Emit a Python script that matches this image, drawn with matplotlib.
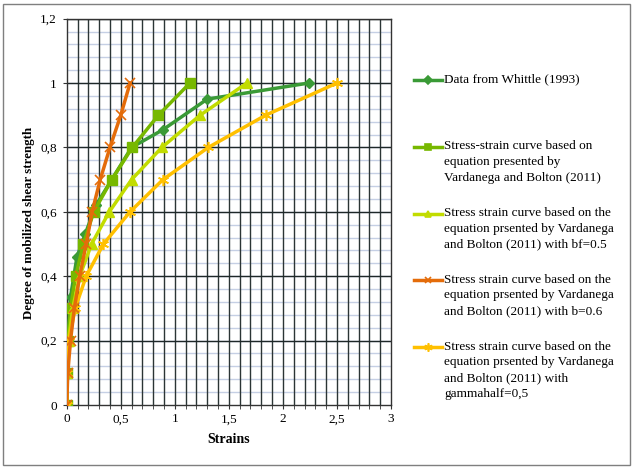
import matplotlib
matplotlib.use("Agg")
from matplotlib import pyplot as plt
from matplotlib.lines import Line2D
from matplotlib.patches import Rectangle
import numpy

plt.rcParams['font.family'] = ['Liberation Serif', 'DejaVu Serif']

# data
whittle_x = [0, 0.01, 0.035, 0.095, 0.17, 0.27, 0.6, 0.89, 1.3, 2.24]
whittle_y = [0, 0.2, 0.335, 0.46, 0.53, 0.62, 0.8, 0.855, 0.95, 1.0]

levels = [0, 0.1, 0.2, 0.3, 0.4, 0.5, 0.6, 0.7, 0.8, 0.9, 1.0]
vb_x = [0, 0.002, 0.012, 0.035, 0.082, 0.155, 0.25, 0.417, 0.607, 0.848, 1.14]
bf_x = [0, 0.003, 0.017, 0.055, 0.12, 0.23, 0.394, 0.6, 0.88, 1.234, 1.667]
b06_x = [0, 0.01, 0.035, 0.07, 0.12, 0.18, 0.235, 0.31, 0.40, 0.50, 0.586]
gh_x = [0, 0.003, 0.02, 0.078, 0.18, 0.34, 0.586, 0.89, 1.31, 1.84, 2.5]

labels = [
    "Data from Whittle (1993)",
    "Stress-strain curve based on\nequation presented by\nVardanega and Bolton (2011)",
    "Stress strain curve based on the\nequation prsented by Vardanega\nand Bolton (2011) with bf=0.5",
    "Stress strain curve based on the\nequation prsented by Vardanega\nand Bolton (2011) with b=0.6",
    "Stress strain curve based on the\nequation prsented by Vardanega\nand Bolton (2011) with\ngammahalf=0,5",
]

xticks = [0, 0.5, 1, 1.5, 2, 2.5, 3]
xticklabels = ["0", "0,5", "1", "1,5", "2", "2,5", "3"]
yticks = [0, 0.2, 0.4, 0.6, 0.8, 1.0, 1.2]
yticklabels = ["0", "0,2", "0,4", "0,6", "0,8", "1", "1,2"]

c_whittle = '#3a9a36'
c_vb = '#77b800'
c_bf = '#c2dc00'
c_b06 = '#e46c0a'
c_gh = '#ffc000'
star = (6, 2, 0)

fig = plt.figure(figsize=(6.33, 4.68), dpi=100)
ax = fig.add_axes([0.1054, 0.1346, 0.5123, 0.8256])

# grid
for x in numpy.arange(0.1, 3.0, 0.1):
    ax.axvline(x, color='#2b3535', lw=1.0, zorder=1)
for y in numpy.arange(0.04, 1.2, 0.04):
    ax.axhline(y, color='#c5cfe4', lw=1.0, zorder=0.5)
for y in yticks[1:]:
    ax.axhline(y, color='#1e2828', lw=1.0, zorder=1)

ax.plot(whittle_x, whittle_y, color=c_whittle, lw=2.5, marker='D', ms=5, zorder=3)
ax.plot(vb_x, levels, color=c_vb, lw=2.5, marker='s', ms=7, zorder=3)
ax.plot(bf_x, levels, color=c_bf, lw=2.5, marker='^', ms=7, zorder=3)
ax.plot(b06_x, levels, color=c_b06, lw=2.5, marker='x', ms=7, mew=1.2, zorder=4)
ax.plot(gh_x, levels, color=c_gh, lw=2.5, marker=star, ms=8, mew=1.2, zorder=3)

ax.set_xlim(0, 3)
ax.set_ylim(0, 1.2)
ax.set_xticks(xticks)
ax.set_xticklabels(xticklabels)
ax.set_xticks(numpy.arange(0, 3.01, 0.1), minor=True)
ax.set_yticks(yticks)
ax.set_yticklabels(yticklabels)
ax.tick_params(which='both', direction='out', length=3, color='#333333', labelsize=9.5)
ax.tick_params(axis='x', pad=3)
ax.tick_params(axis='y', pad=4)
for s in ax.spines.values():
    s.set_color('#333333')
    s.set_linewidth(1.0)

ax.set_xlabel("Strains", fontsize=10, fontweight='bold')
ax.xaxis.set_label_coords(0.5, -0.072)
ax.set_ylabel("Degree of mobilized shear strength", fontsize=9.3, fontweight='bold')
ax.yaxis.set_label_coords(-0.098, 0.47)

# legend drawn by hand
colors = [c_whittle, c_vb, c_bf, c_b06, c_gh]
markers = ['D', 's', '^', 'x', star]
sizes = [4, 5, 5, 5, 6]
W, H = 633.0, 468.0
for i in range(5):
    yp = 80 + 66.8 * i
    yf = 1 - yp / H
    fig.add_artist(Line2D([414 / W, 442 / W], [yf, yf], color=colors[i], lw=2.5))
    fig.add_artist(Line2D([428 / W], [yf], color=colors[i], marker=markers[i],
                          ms=sizes[i], mew=1.2))
    fig.text(444 / W, 1 - (yp - 6.5) / H, labels[i], fontsize=9.5, va='top', ha='left',
             linespacing=1.4)

fig.add_artist(Rectangle((3 / W, 3 / H), 627 / W, 461 / H, transform=fig.transFigure,
                         fill=False, edgecolor='#7f7f7f', lw=1.0))

fig.savefig("out.png", dpi=100)
